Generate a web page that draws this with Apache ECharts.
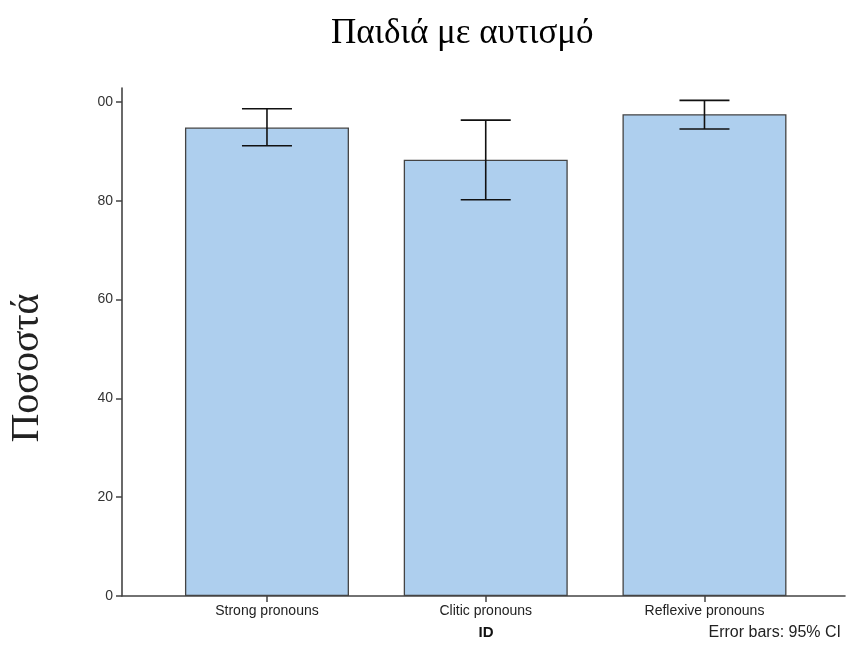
<!DOCTYPE html>
<html>
<head>
<meta charset="utf-8">
<script src="https://cdn.jsdelivr.net/npm/echarts@6/dist/echarts.min.js"></script>
<style>
  html, body { margin: 0; padding: 0; background: #fff; }
  #chart { width: 846px; height: 646px; }
</style>
</head>
<body>
<div id="chart"></div>
<script>
// Mean percentage per pronoun type with 95% confidence interval bounds
const categories = ['Strong pronouns', 'Clitic pronouns', 'Reflexive pronouns'];
const means = [94.8, 88.3, 97.5];
const ciLow = [91.1, 80.2, 94.5];
const ciHigh = [98.6, 96.3, 100.3];
const yTickValues = [0, 20, 40, 60, 80, 100];
const yTickLabels = ['0', '20', '40', '60', '80', '00'];

const titleText = 'Παιδιά με αυτισμό';
const yTitle = 'Ποσοστά';
const xTitle = 'ID';
const noteText = 'Error bars: 95% CI';

const axisColor = '#444';
const sans = 'Liberation Sans, Arial, sans-serif';
const serif = 'Liberation Serif, Times New Roman, serif';

const chart = echarts.init(document.getElementById('chart'));

const yMax = 102.8;

chart.setOption({
  animation: false,
  title: {
    text: titleText,
    left: 326,
    top: 11,
    textStyle: { fontFamily: serif, fontSize: 35, fontWeight: 'normal', color: '#000' }
  },
  grid: [
    { left: 122, right: 1, top: 88, bottom: 50 },
    { left: 157.6, width: 656.25, top: 88, bottom: 50 }
  ],
  xAxis: [
    {
      type: 'value', gridIndex: 0, min: 0, max: 1,
      axisLine: { show: true, onZero: false, lineStyle: { color: axisColor, width: 1.6 } },
      axisTick: { show: false }, axisLabel: { show: false }, splitLine: { show: false }
    },
    {
      type: 'category', gridIndex: 1, data: categories,
      axisLine: { show: false },
      axisTick: { show: true, alignWithLabel: true, length: 6, lineStyle: { color: axisColor, width: 1.5 } },
      axisLabel: { fontFamily: sans, fontSize: 14, color: '#222', margin: 8 },
      splitLine: { show: false }
    }
  ],
  yAxis: [
    {
      type: 'value', gridIndex: 0, min: 0, max: yMax,
      axisLine: { show: true, lineStyle: { color: axisColor, width: 1.6 } },
      axisTick: { show: true, length: 6, customValues: yTickValues, lineStyle: { color: axisColor, width: 1.5 } },
      axisLabel: {
        fontFamily: sans, fontSize: 14, color: '#333', margin: 9,
        customValues: yTickValues,
        formatter: function (v) {
          const i = yTickValues.indexOf(v);
          return i >= 0 ? yTickLabels[i] : '';
        }
      },
      splitLine: { show: false }
    },
    {
      type: 'value', gridIndex: 1, min: 0, max: yMax, show: false
    }
  ],
  series: [
    {
      type: 'bar',
      xAxisIndex: 1, yAxisIndex: 1,
      data: means,
      barWidth: 164,
      itemStyle: { color: '#aecfee', borderColor: '#444', borderWidth: 1.3 }
    },
    {
      type: 'custom',
      xAxisIndex: 1, yAxisIndex: 1,
      data: categories.map((c, i) => [i, ciLow[i], ciHigh[i]]),
      renderItem: function (params, api) {
        const x = api.value(0);
        const lo = api.coord([x, api.value(1)]);
        const hi = api.coord([x, api.value(2)]);
        const half = 25;
        const style = { stroke: '#111', lineWidth: 1.6 };
        return {
          type: 'group',
          children: [
            { type: 'line', shape: { x1: hi[0], y1: hi[1], x2: lo[0], y2: lo[1] }, style: style },
            { type: 'line', shape: { x1: hi[0] - half, y1: hi[1], x2: hi[0] + half, y2: hi[1] }, style: style },
            { type: 'line', shape: { x1: lo[0] - half, y1: lo[1], x2: lo[0] + half, y2: lo[1] }, style: style }
          ]
        };
      },
      z: 5
    }
  ],
  graphic: [
    {
      type: 'text', x: 27, y: 368, rotation: Math.PI / 2,
      style: { text: yTitle, font: '40px ' + serif, fill: '#222', align: 'center', verticalAlign: 'middle' }
    },
    {
      type: 'text', x: 486, y: 633,
      style: { text: xTitle, font: 'bold 15px ' + sans, fill: '#111', align: 'center', verticalAlign: 'middle' }
    },
    {
      type: 'text', x: 841, y: 633,
      style: { text: noteText, font: '16px ' + sans, fill: '#222', align: 'right', verticalAlign: 'middle' }
    }
  ]
});
</script>
</body>
</html>
